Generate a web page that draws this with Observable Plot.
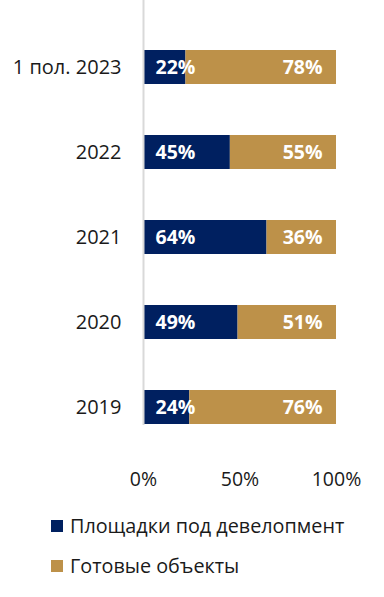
<!DOCTYPE html>
<html><head><meta charset="utf-8">
<script src="https://cdn.jsdelivr.net/npm/d3@7"></script>
<script src="https://cdn.jsdelivr.net/npm/@observablehq/plot@0.6"></script>
<style>
body{margin:0;background:#fff;font-family:"Open Sans",sans-serif;}
#legend{position:relative;height:97px;}
.item{position:absolute;left:51px;display:flex;align-items:center;font-size:19.8px;color:#1a1a1a;white-space:nowrap;}
.sw{width:12px;height:12px;margin-right:7px;}
</style></head><body>
<div id="chart"></div>
<div id="legend"></div>
<script>
const categories = ["1 пол. 2023", "2022", "2021", "2020", "2019"];
const seriesNames = ["Площадки под девелопмент", "Готовые объекты"];
const sites = [22, 45, 64, 49, 24];
const ready = [78, 55, 36, 51, 76];
const colors = ["#002060", "#bd9149"];
const xTicks = [0, 50, 100];

const data = [];
categories.forEach((c, i) => {
  data.push({cat: c, series: seriesNames[0], value: sites[i]});
  data.push({cat: c, series: seriesNames[1], value: ready[i]});
});

const chart = Plot.plot({
  width: 384,
  height: 500,
  marginTop: 0,
  marginBottom: 50,
  marginLeft: 143,
  marginRight: 48,
  style: {fontFamily: "'Open Sans', sans-serif", fontSize: "20px", color: "#1a1a1a", overflow: "visible"},
  x: {domain: [0, 100], ticks: xTicks, tickFormat: d => d + "%", label: null},
  y: {domain: categories, paddingInner: 0.6, paddingOuter: 0.4375, align: 0.657, label: null},
  color: {domain: seriesNames, range: colors},
  marks: [
    Plot.barX(data, Plot.stackX({x: "value", y: "cat", fill: "series"})),
    Plot.ruleX([0], {stroke: "#d9d9d9", strokeWidth: 2, insetBottom: 25}),
    Plot.text(data.filter(d => d.series === seriesNames[0]), {x: 0, y: "cat", text: d => d.value + "%", textAnchor: "start", dx: 12, fill: "white", fontWeight: "bold", fontSize: 19.5}),
    Plot.text(data.filter(d => d.series === seriesNames[1]), {x: 100, y: "cat", text: d => d.value + "%", textAnchor: "end", dx: -14, fill: "white", fontWeight: "bold", fontSize: 19.5}),
    Plot.axisX({ticks: xTicks, tickFormat: d => d + "%", tickSize: 0, tickPadding: 22, fontSize: 19.5}),
    Plot.axisY({tickSize: 0, tickPadding: 22, fontSize: 20})
  ]
});
document.getElementById("chart").appendChild(chart);

const legend = document.getElementById("legend");
seriesNames.forEach((s, i) => {
  const it = document.createElement("div");
  it.className = "item";
  it.style.top = (12 + i * 40) + "px";
  it.innerHTML = `<span class="sw" style="background:${colors[i]}"></span><span>${s}</span>`;
  legend.appendChild(it);
});
</script>
</body></html>
